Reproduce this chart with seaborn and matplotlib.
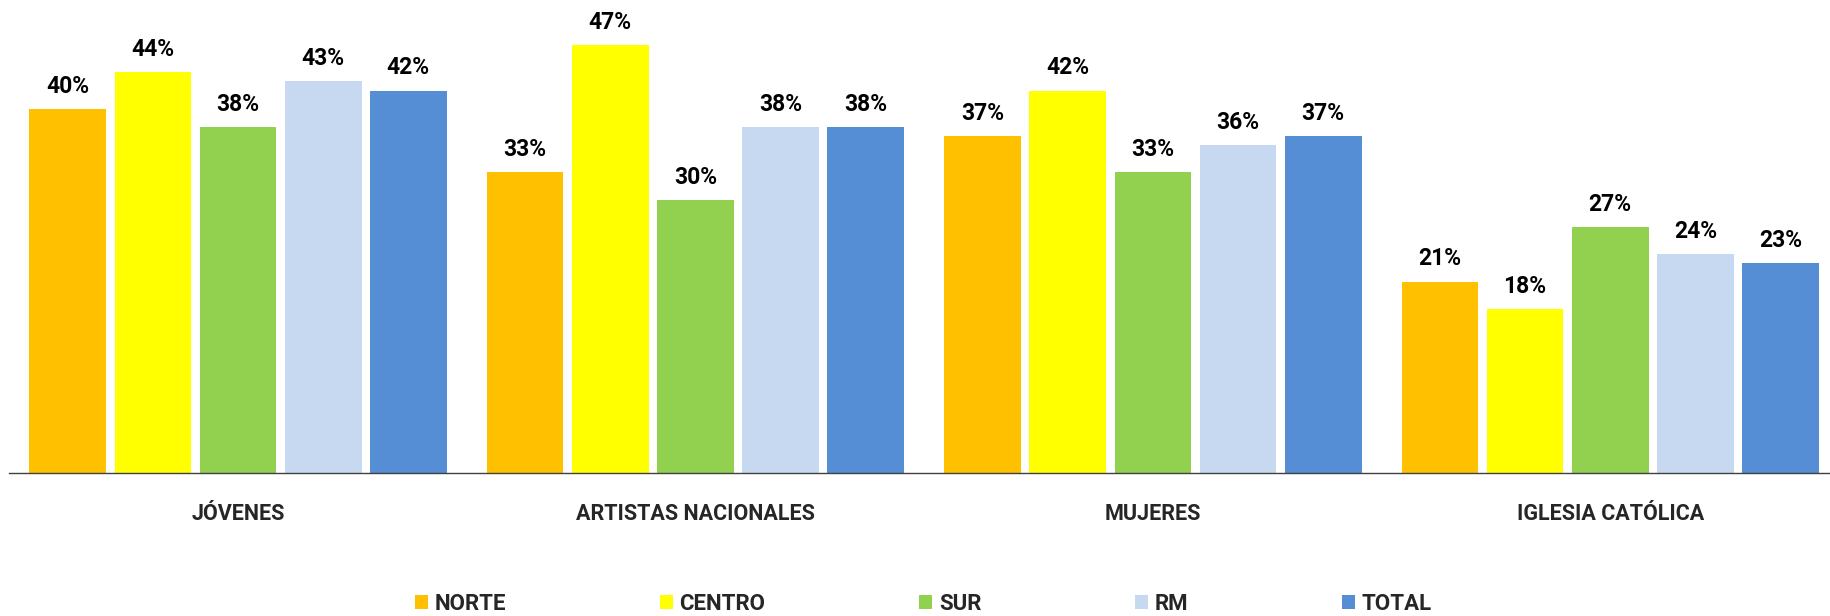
import matplotlib
matplotlib.use("Agg")
import matplotlib.pyplot as plt
import seaborn as sns
import pandas as pd
import numpy as np

categories = ["JÓVENES", "ARTISTAS NACIONALES", "MUJERES", "IGLESIA CATÓLICA"]
regions = ["NORTE", "CENTRO", "SUR", "RM", "TOTAL"]
norte = [0.40, 0.33, 0.37, 0.21]
centro = [0.44, 0.47, 0.42, 0.18]
sur = [0.38, 0.30, 0.33, 0.27]
rm = [0.43, 0.38, 0.36, 0.24]
total = [0.42, 0.38, 0.37, 0.23]
colors = ["#FFC000", "#FFFF00", "#92D050", "#C6D9F1", "#558ED5"]

series = [norte, centro, sur, rm, total]
rows = []
for reg, vals in zip(regions, series):
    for cat, v in zip(categories, vals):
        rows.append({"cat": cat, "region": reg, "val": v})
df = pd.DataFrame(rows)

sns.set_style("white")
plt.rcParams['font.family'] = ['Roboto', 'DejaVu Sans']

fig = plt.figure(figsize=(18.30, 6.16), dpi=100)
ax = fig.add_axes([9.3 / 1830, 1 - 472.7 / 616, (1839 - 9.3) / 1830, 455 / 616])

sns.barplot(data=df, x="cat", y="val", hue="region", order=categories,
            hue_order=regions, palette=colors, saturation=1, width=0.931,
            gap=0.1, dodge=True, ax=ax, legend=True, errorbar=None,
            linewidth=0)

for cont in ax.containers:
    ax.bar_label(cont, labels=[f"{v*100:.0f}%" for v in cont.datavalues],
                 padding=8, fontsize=16.5, fontweight="bold", color="black")

ax.set_ylim(0, 0.5)
ax.set_xlim(-0.5, 3.5)
ax.set_xlabel("")
ax.set_ylabel("")
ax.set_yticks([])
for s in ["top", "right", "left"]:
    ax.spines[s].set_visible(False)
ax.spines["bottom"].set_color("#404040")
ax.spines["bottom"].set_linewidth(1.0)
ax.tick_params(axis="x", which="major", length=0, pad=22, labelsize=15.5)
for lbl in ax.get_xticklabels():
    lbl.set_fontweight("bold")
ax.set_xticks(np.arange(-0.5, 4.0, 1.0), minor=True)
ax.tick_params(axis="x", which="minor", length=6, width=1.0, color="#404040",
               direction="out")

handles, labels = ax.get_legend_handles_labels()
ax.get_legend().remove()
leg = fig.legend(handles, labels, loc="center", bbox_to_anchor=(0.5045, 0.02),
                 ncol=5, frameon=False, fontsize=16, columnspacing=6.9,
                 handlelength=0.6, handleheight=0.6, handletextpad=0.3)
for t in leg.get_texts():
    t.set_fontweight("bold")

fig.savefig("out.png", dpi=100)
